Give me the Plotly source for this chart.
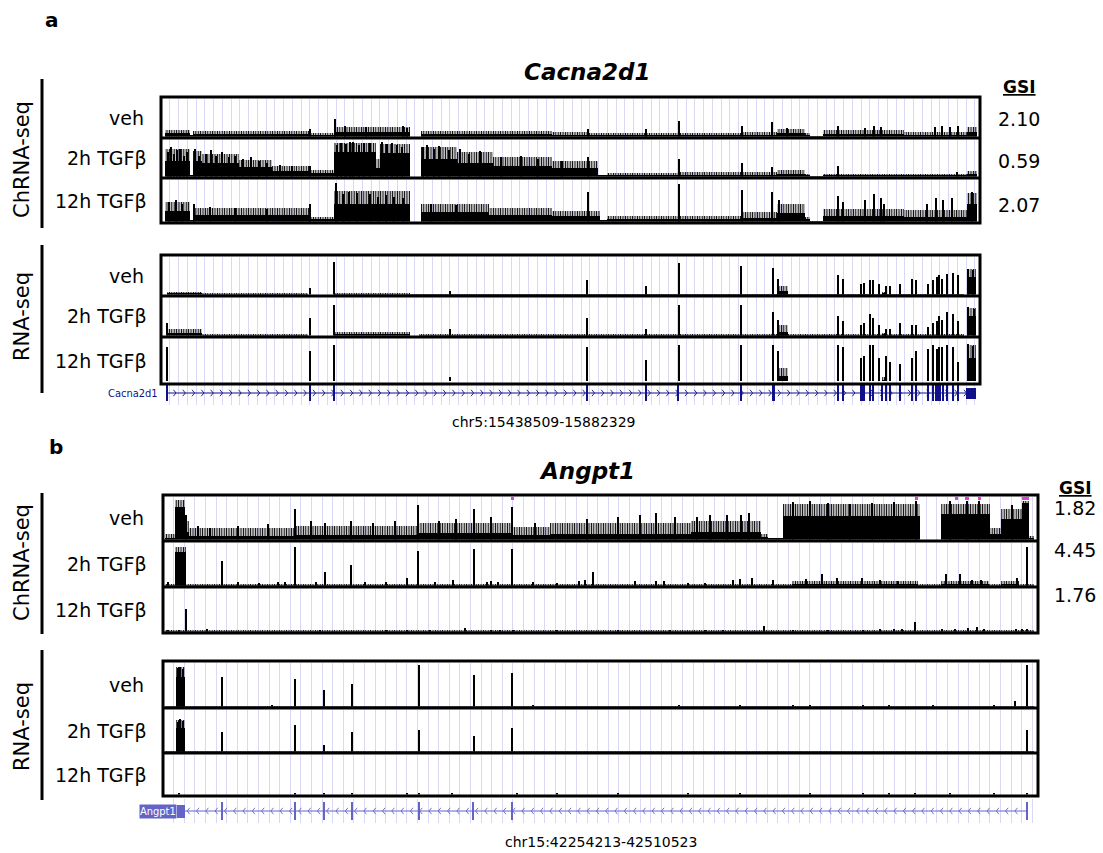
import plotly.graph_objects as go

W, H = 1103, 853

# ---------------- data ----------------
A_LOCUS = ("chr5", 15438509, 15882329)
B_LOCUS = ("chr15", 42254213, 42510523)
A_GENE, B_GENE = "Cacna2d1", "Angpt1"
CONDITIONS = ["veh", "2h TGFβ", "12h TGFβ"]
A_GSI = ["2.10", "0.59", "2.07"]
B_GSI = ["1.82", "4.45", "1.76"]

# signal segments: (start % of locus, end %, dense level, noisy top level) as fraction of track height
A_CHR_VEH_SEG = [(0.5, 3.5, 0.10, 0.20), (3.5, 3.9, 0.03, 0.05), (3.9, 18.1, 0.07, 0.16), (18.1, 21.1, 0.06, 0.11),
                 (21.1, 30.4, 0.14, 0.28), (31.7, 47.7, 0.07, 0.16), (47.7, 52.0, 0.06, 0.13), (52.0, 70.9, 0.04, 0.10),
                 (70.9, 75.2, 0.06, 0.14), (75.2, 78.6, 0.10, 0.22), (78.6, 79.3, 0.05, 0.10), (79.3, 80.8, 0.01, 0.02),
                 (80.8, 90.7, 0.08, 0.20), (90.7, 98.4, 0.06, 0.14), (98.4, 99.6, 0.15, 0.28)]
A_CHR_VEH_SPK = [(18.2, 0.22), (21.3, 0.48), (22.5, 0.30), (25.0, 0.28), (29.5, 0.30), (30.1, 0.25), (52.1, 0.22),
                 (59.2, 0.22), (63.2, 0.43), (70.9, 0.31), (74.6, 0.40), (76.5, 0.25), (82.7, 0.31), (86.0, 0.25),
                 (87.1, 0.31), (87.9, 0.28), (94.5, 0.27), (95.4, 0.30), (96.4, 0.27), (97.3, 0.30)]

A_CHR_2H_SEG = [(0.5, 3.5, 0.45, 0.78), (3.5, 3.85, 0.04, 0.06), (3.85, 5.0, 0.45, 0.72), (5.0, 9.5, 0.40, 0.65),
                (9.5, 13.5, 0.28, 0.48), (13.5, 18.1, 0.16, 0.30), (18.1, 21.1, 0.10, 0.20), (21.1, 26.2, 0.70, 0.95),
                (26.2, 26.7, 0.25, 0.50), (26.7, 30.4, 0.68, 0.93), (31.7, 36.2, 0.52, 0.85), (36.2, 40.5, 0.40, 0.70),
                (40.5, 47.7, 0.32, 0.55), (47.7, 53.3, 0.26, 0.45), (53.3, 54.5, 0.03, 0.05), (54.5, 63.2, 0.06, 0.12),
                (63.2, 70.9, 0.07, 0.14), (70.9, 75.2, 0.06, 0.13), (75.2, 78.6, 0.09, 0.20), (78.6, 79.3, 0.04, 0.08),
                (79.3, 80.8, 0.01, 0.02), (80.8, 90.7, 0.04, 0.09), (90.7, 98.4, 0.03, 0.08), (98.4, 99.6, 0.08, 0.18)]
A_CHR_2H_SPK = [(0.9, 0.70), (1.2, 0.85), (1.6, 0.65), (2.0, 0.75), (2.3, 0.80), (2.8, 0.60), (3.2, 0.70),
                (4.2, 0.78), (4.6, 0.60), (5.5, 0.65), (6.1, 0.75), (6.7, 0.60), (7.5, 0.70), (8.3, 0.55), (9.0, 0.60),
                (10.0, 0.50), (11.0, 0.55), (12.0, 0.45), (13.0, 0.40), (14.5, 0.35), (16.0, 0.30), (18.2, 0.30),
                (21.5, 0.90), (22.0, 0.95), (22.6, 0.92), (23.1, 0.97), (23.5, 0.98), (24.2, 0.90), (24.8, 0.95),
                (25.5, 0.95), (27.0, 0.97), (27.6, 0.92), (28.2, 0.95), (28.8, 0.90), (29.4, 0.85), (32.0, 0.85),
                (32.5, 0.90), (33.3, 0.80), (34.0, 0.88), (35.2, 0.75), (36.5, 0.78), (37.6, 0.65), (39.0, 0.72),
                (41.5, 0.55), (44.0, 0.60), (46.0, 0.50), (49.0, 0.45), (52.1, 0.55), (63.2, 0.50), (70.9, 0.40),
                (74.6, 0.28), (82.7, 0.30), (97.2, 0.15)]

A_CHR_12H_SEG = [(0.5, 3.5, 0.27, 0.50), (3.5, 3.9, 0.04, 0.06), (3.9, 18.1, 0.17, 0.35), (18.1, 21.1, 0.07, 0.12),
                 (21.1, 30.4, 0.45, 0.78), (31.7, 40.0, 0.24, 0.45), (40.0, 47.7, 0.17, 0.35), (47.7, 53.6, 0.14, 0.28),
                 (53.6, 54.5, 0.03, 0.05), (54.5, 63.2, 0.07, 0.14), (63.2, 70.9, 0.08, 0.16), (70.9, 75.2, 0.10, 0.25),
                 (75.2, 78.6, 0.22, 0.45), (78.6, 79.3, 0.07, 0.12), (79.3, 80.8, 0.01, 0.02), (80.8, 90.7, 0.14, 0.32),
                 (90.7, 98.4, 0.13, 0.30), (98.4, 99.6, 0.45, 0.72)]
A_CHR_12H_SPK = [(1.0, 0.50), (1.8, 0.55), (2.6, 0.45), (4.0, 0.45), (6.0, 0.38), (9.0, 0.35), (13.0, 0.32),
                 (18.2, 0.45), (21.4, 0.96), (22.2, 0.70), (23.0, 0.75), (24.0, 0.72), (25.5, 0.70), (26.5, 0.62),
                 (27.5, 0.68), (28.5, 0.62), (29.5, 0.60), (33.0, 0.45), (36.0, 0.42), (52.1, 0.75), (63.2, 0.95),
                 (70.9, 0.80), (74.6, 0.75), (75.5, 0.55), (82.7, 0.65), (83.3, 0.50), (86.0, 0.55), (87.1, 0.70),
                 (87.9, 0.60), (88.3, 0.45), (93.5, 0.45), (94.6, 0.60), (95.5, 0.55), (96.6, 0.60), (99.0, 0.75)]

A_RNA_VEH_SEG = [(0.7, 5.0, 0.03, 0.07), (5.0, 18.0, 0.012, 0.03), (21.1, 30.4, 0.015, 0.04), (30.4, 98.0, 0.008, 0.02),
                 (75.2, 76.5, 0.10, 0.25), (88.0, 88.5, 0.05, 0.08), (98.4, 99.5, 0.50, 0.70)]
A_RNA_VEH_SPK = [(18.2, 0.20), (21.1, 0.90), (35.3, 0.10), (52.0, 0.40), (59.2, 0.25), (63.2, 0.88), (70.8, 0.80),
                 (74.7, 0.75), (75.4, 0.45), (82.7, 0.55), (83.3, 0.45), (85.5, 0.30), (85.9, 0.33), (86.6, 0.40),
                 (87.0, 0.40), (87.7, 0.30), (88.5, 0.25), (89.0, 0.25), (90.2, 0.30), (91.7, 0.45), (92.2, 0.40),
                 (93.7, 0.30), (94.3, 0.42), (94.7, 0.50), (95.0, 0.55), (95.4, 0.45), (96.0, 0.58), (96.7, 0.60),
                 (97.3, 0.55), (98.6, 0.70), (99.2, 0.68)]

A_RNA_2H_SEG = [(0.7, 5.0, 0.07, 0.18), (5.0, 18.0, 0.02, 0.04), (21.1, 30.4, 0.04, 0.10), (31.5, 98.0, 0.012, 0.03),
                (75.2, 76.5, 0.12, 0.30), (88.0, 88.5, 0.05, 0.08), (98.4, 99.5, 0.55, 0.78)]
A_RNA_2H_SPK = [(0.8, 0.35), (18.2, 0.50), (21.1, 0.85), (35.3, 0.20), (52.0, 0.50), (59.2, 0.20), (63.2, 0.85),
                (70.8, 0.85), (74.7, 0.65), (75.4, 0.45), (82.7, 0.55), (83.3, 0.40), (85.5, 0.30), (85.9, 0.35),
                (86.6, 0.60), (87.0, 0.50), (87.7, 0.30), (88.5, 0.20), (89.0, 0.20), (90.2, 0.35), (91.7, 0.30),
                (92.2, 0.30), (93.7, 0.25), (94.3, 0.35), (94.7, 0.40), (95.0, 0.55), (95.4, 0.45), (96.0, 0.65),
                (96.7, 0.60), (97.3, 0.40), (98.6, 0.80), (99.3, 0.75)]

A_RNA_12H_SEG = [(0.7, 5.0, 0.02, 0.05), (5.0, 18.0, 0.012, 0.03), (21.1, 30.4, 0.02, 0.05), (30.4, 98.0, 0.012, 0.03),
                 (75.2, 76.5, 0.16, 0.35), (88.0, 88.5, 0.08, 0.15), (98.4, 99.5, 0.60, 0.90)]
A_RNA_12H_SPK = [(0.8, 0.85), (18.2, 0.75), (21.1, 0.90), (35.3, 0.15), (52.0, 0.85), (59.2, 0.55), (63.2, 0.90),
                 (70.8, 0.90), (74.7, 0.90), (75.4, 0.75), (82.7, 0.90), (83.3, 0.85), (85.5, 0.60), (85.9, 0.65),
                 (86.6, 0.90), (87.0, 0.90), (87.7, 0.60), (88.5, 0.65), (89.0, 0.50), (90.2, 0.45), (91.7, 0.60),
                 (92.2, 0.75), (93.7, 0.80), (94.3, 0.90), (94.7, 0.80), (95.0, 0.85), (95.4, 0.85), (96.0, 0.90),
                 (96.7, 0.85), (97.3, 0.50), (98.6, 0.92), (99.2, 0.88)]

B_CHR_VEH_SEG = [(0.2, 1.4, 0.06, 0.15), (1.4, 2.5, 0.80, 0.97), (2.5, 3.0, 0.20, 0.45), (3.0, 15.0, 0.10, 0.28),
                 (15.0, 29.0, 0.13, 0.35), (29.0, 40.0, 0.16, 0.40), (40.0, 44.2, 0.13, 0.32), (44.2, 60.3, 0.15, 0.40),
                 (60.3, 68.3, 0.19, 0.45), (68.3, 69.1, 0.08, 0.15), (69.1, 70.9, 0.03, 0.06), (70.9, 86.5, 0.58, 0.88),
                 (88.9, 94.5, 0.62, 0.88), (94.5, 95.8, 0.14, 0.30), (95.8, 98.2, 0.50, 0.75), (98.2, 99.0, 0.90, 0.95),
                 (99.0, 99.5, 0.05, 0.10)]
B_CHR_VEH_SPK = [(2.6, 0.60), (4.0, 0.35), (5.4, 0.30), (8.6, 0.35), (12.0, 0.38), (15.1, 0.75), (16.9, 0.45),
                 (18.5, 0.40), (21.5, 0.45), (24.0, 0.42), (26.5, 0.45), (29.1, 0.85), (31.5, 0.45), (33.5, 0.50),
                 (35.5, 0.75), (37.5, 0.55), (39.9, 0.80), (42.5, 0.40), (48.5, 0.50), (52.0, 0.55), (54.5, 0.60),
                 (56.3, 0.65), (58.5, 0.55), (61.0, 0.55), (62.5, 0.60), (64.5, 0.60), (66.1, 0.60), (67.0, 0.65),
                 (72.0, 0.92), (74.0, 0.95), (76.0, 0.90), (78.5, 0.88), (81.0, 0.90), (83.5, 0.92), (86.1, 0.95),
                 (90.0, 0.95), (91.9, 0.95), (93.3, 0.95), (97.0, 0.85)]
B_CHR_VEH_CLIP = [(39.8, 40.1), (85.9, 86.3), (90.5, 90.9), (91.7, 92.1), (93.1, 93.5), (98.2, 99.0)]

B_CHR_2H_SEG = [(0.2, 99.5, 0.012, 0.03), (1.4, 2.6, 0.82, 0.95), (71.9, 86.3, 0.04, 0.12), (88.9, 94.4, 0.04, 0.12),
                (95.8, 97.8, 0.05, 0.12)]
B_CHR_2H_SPK = [(0.6, 0.10), (6.8, 0.60), (8.6, 0.10), (11.0, 0.08), (13.1, 0.10), (14.0, 0.10), (15.1, 0.95),
                (17.5, 0.10), (18.5, 0.35), (21.5, 0.50), (23.1, 0.10), (25.5, 0.10), (27.9, 0.20), (29.1, 0.85),
                (31.1, 0.10), (33.1, 0.15), (35.5, 0.90), (37.0, 0.10), (37.5, 0.12), (38.3, 0.10), (39.9, 0.90),
                (42.3, 0.10), (45.0, 0.08), (47.5, 0.12), (48.2, 0.15), (49.2, 0.35), (53.9, 0.12), (56.3, 0.12),
                (57.3, 0.12), (60.0, 0.08), (62.0, 0.08), (65.1, 0.15), (66.0, 0.18), (67.3, 0.20), (69.7, 0.15),
                (73.5, 0.18), (75.3, 0.30), (77.0, 0.20), (79.9, 0.20), (81.9, 0.15), (84.0, 0.12), (89.5, 0.30),
                (91.1, 0.30), (92.5, 0.15), (93.5, 0.15), (97.6, 0.20), (98.7, 0.95)]

B_CHR_12H_SEG = [(0.2, 99.5, 0.012, 0.03)]
B_CHR_12H_SPK = [(0.6, 0.05), (1.8, 0.05), (2.6, 0.55), (5.0, 0.08), (18.0, 0.05), (25.5, 0.06), (27.9, 0.06),
                 (30.5, 0.06), (34.5, 0.10), (37.5, 0.06), (38.5, 0.06), (40.0, 0.06), (45.0, 0.05), (52.0, 0.05),
                 (58.0, 0.06), (62.0, 0.05), (64.0, 0.06), (68.7, 0.15), (72.0, 0.06), (76.0, 0.06), (80.0, 0.06),
                 (82.0, 0.08), (83.5, 0.08), (84.5, 0.08), (86.0, 0.25), (89.0, 0.08), (90.5, 0.08), (92.0, 0.10),
                 (93.0, 0.12), (93.8, 0.08), (97.5, 0.08), (98.2, 0.08), (98.8, 0.08)]

B_RNA_VEH_SEG = [(0.2, 99.5, 0.008, 0.02), (1.5, 2.5, 0.70, 0.95)]
B_RNA_VEH_SPK = [(1.7, 0.92), (2.0, 0.95), (2.3, 0.90), (6.8, 0.70), (12.5, 0.03), (15.1, 0.66), (18.4, 0.40),
                 (21.6, 0.55), (29.3, 1.00), (35.5, 0.75), (39.9, 0.80), (42.3, 0.05), (59.0, 0.04), (66.0, 0.05),
                 (72.0, 0.05), (74.0, 0.04), (80.0, 0.04), (83.0, 0.04), (88.0, 0.04), (95.0, 0.04), (97.4, 0.15),
                 (98.8, 1.00)]
B_RNA_2H_SEG = [(0.2, 99.5, 0.004, 0.01), (1.5, 2.5, 0.60, 0.80)]
B_RNA_2H_SPK = [(1.7, 0.75), (2.0, 0.82), (2.3, 0.78), (6.8, 0.50), (15.1, 0.68), (18.4, 0.18), (21.6, 0.50),
                (29.3, 0.55), (35.5, 0.40), (39.9, 0.60), (98.8, 0.55)]
B_RNA_12H_SEG = []
B_RNA_12H_SPK = [(1.8, 0.03), (15.1, 0.03), (18.4, 0.03), (21.6, 0.03), (27.9, 0.05), (29.3, 0.05), (33.0, 0.03),
                 (40.5, 0.04), (45.0, 0.03), (52.0, 0.03), (60.0, 0.04), (66.0, 0.03), (74.0, 0.04), (80.0, 0.04),
                 (83.0, 0.05), (86.0, 0.04), (90.0, 0.03), (95.0, 0.03), (98.8, 0.04)]

# gene models (% of locus)
A_GENE_SPAN = (0.7, 99.5)
A_EXONS = [0.7, 18.2, 21.1, 52.0, 59.2, 63.2, 70.8, 74.7, 74.9, 82.7, 83.3, 85.5, 85.7, 85.9, 86.6, 87.0, 88.1, 88.5,
           89.0, 90.2, 91.7, 92.2, 93.7, 94.3, 94.6, 94.9, 95.2, 95.5, 96.0, 96.7, 97.3]
A_BLOCK = (98.3, 99.5)
B_GENE_SPAN = (1.7, 98.8)
B_EXONS = [6.8, 15.1, 18.4, 21.6, 29.3, 35.5, 39.9, 98.8]
B_BLOCK = (1.6, 2.5)

# ---------------- layout (pixels) ----------------
FONT = "DejaVu Sans"
GRID = "#d9d9f6"
A_X = (161, 980)
B_X = (163, 1038)
A_CHR_ROWS = [(97, 138), (138, 178), (178, 223)]
A_RNA_ROWS = [(255, 296), (296, 337), (337, 384)]
A_GENE_ROW = (381, 405)
B_CHR_ROWS = [(495, 541), (541, 587), (587, 633)]
B_RNA_ROWS = [(661, 708), (708, 753), (753, 796)]
B_GENE_ROW = (799, 823)

fig = go.Figure()
axes = {}
count = [0]


def new_axes(xpx, ypx, locus, grid_px, yr=(0, 1.04)):
    count[0] += 1
    k = count[0]
    s = "" if k == 1 else str(k)
    start, end = locus[1], locus[2]
    span = end - start
    axes["xaxis" + s] = dict(domain=[xpx[0] / W, xpx[1] / W], range=[start, end], anchor="y" + s,
                             showgrid=True, gridcolor=GRID, gridwidth=1, tick0=start,
                             dtick=span * grid_px / (xpx[1] - xpx[0]), showticklabels=False, ticks="",
                             zeroline=False, showline=False, fixedrange=True)
    axes["yaxis" + s] = dict(domain=[1 - ypx[1] / H, 1 - ypx[0] / H], range=list(yr), anchor="x" + s,
                             visible=False, fixedrange=True)
    return "x" + s, "y" + s


def bar(xa, ya, x, y, width, color, base=None, pattern=None):
    m = dict(color=color, line=dict(width=0))
    if pattern:
        m["pattern"] = pattern
    fig.add_trace(go.Bar(x=x, y=y, width=width, base=base, marker=m,
                         xaxis=xa, yaxis=ya, showlegend=False, hoverinfo="skip"))


NOISE = dict(shape="|", size=2.4, solidity=0.5, fillmode="replace")


def draw_signal(xpx, ypx, locus, grid_px, seg, spk, clip=None):
    xa, ya = new_axes(xpx, ypx, locus, grid_px)
    start, end = locus[1], locus[2]
    span = end - start
    bp_px = span / (xpx[1] - xpx[0])
    g = lambda p: start + p / 100 * span
    if seg:
        cx = [g((a + b) / 2) for a, b, _, _ in seg]
        wd = [g(b) - g(a) for a, b, _, _ in seg]
        bar(xa, ya, cx, [t for _, _, _, t in seg], wd, "black", pattern=NOISE)
        bar(xa, ya, cx, [m for _, _, m, _ in seg], wd, "black")
    if spk:
        bar(xa, ya, [g(p) for p, _ in spk], [h for _, h in spk], 1.15 * bp_px, "black")
    if clip:
        bar(xa, ya, [g((a + b) / 2) for a, b in clip], [0.06] * len(clip),
            [max(g(b) - g(a), 2 * bp_px) for a, b in clip], "#e23ce2", base=[0.97] * len(clip))


def draw_gene(xpx, ypx, locus, grid_px, span_pct, exons, block, color, direction, tick_px, blk_px):
    xa, ya = new_axes(xpx, ypx, locus, grid_px, yr=(0, 1))
    start, end = locus[1], locus[2]
    span = end - start
    bp_px = span / (xpx[1] - xpx[0])
    hpx = ypx[1] - ypx[0]
    g = lambda p: start + p / 100 * span
    x0, x1 = g(span_pct[0]), g(span_pct[1])
    fig.add_trace(go.Scatter(x=[x0, x1], y=[0.5, 0.5], mode="lines", line=dict(color=color, width=1),
                             xaxis=xa, yaxis=ya, showlegend=False, hoverinfo="skip"))
    step = 9.3 * bp_px
    dx = 2.6 * bp_px * direction
    dy = 3.2 / hpx
    xs, ys = [], []
    n = int((x1 - x0) / step)
    for i in range(1, n):
        c = x0 + i * step
        xs += [c - dx, c, c - dx, None]
        ys += [0.5 + dy, 0.5, 0.5 - dy, None]
    fig.add_trace(go.Scatter(x=xs, y=ys, mode="lines", line=dict(color=color, width=0.9),
                             xaxis=xa, yaxis=ya, showlegend=False, hoverinfo="skip"))
    th = tick_px / hpx
    bar(xa, ya, [g(p) for p in exons], [th] * len(exons), 1.4 * bp_px, color, base=[0.5 - th / 2] * len(exons))
    bh = blk_px / hpx
    bar(xa, ya, [g((block[0] + block[1]) / 2)], [bh], g(block[1]) - g(block[0]), color, base=[0.5 - bh / 2])


A_GRID_PX, B_GRID_PX = 8.75, 10.6
for rows, tracks in [(A_CHR_ROWS, [(A_CHR_VEH_SEG, A_CHR_VEH_SPK), (A_CHR_2H_SEG, A_CHR_2H_SPK), (A_CHR_12H_SEG, A_CHR_12H_SPK)]),
                     (A_RNA_ROWS, [(A_RNA_VEH_SEG, A_RNA_VEH_SPK), (A_RNA_2H_SEG, A_RNA_2H_SPK), (A_RNA_12H_SEG, A_RNA_12H_SPK)])]:
    for r, (seg, spk) in zip(rows, tracks):
        draw_signal(A_X, (r[0] + 1.5, r[1] - 1.5), A_LOCUS, A_GRID_PX, seg, spk)

clips = [B_CHR_VEH_CLIP, None, None]
for r, (seg, spk), c in zip(B_CHR_ROWS, [(B_CHR_VEH_SEG, B_CHR_VEH_SPK), (B_CHR_2H_SEG, B_CHR_2H_SPK), (B_CHR_12H_SEG, B_CHR_12H_SPK)], clips):
    draw_signal(B_X, (r[0] + 1.5, r[1] - 1.5), B_LOCUS, B_GRID_PX, seg, spk, c)
for r, (seg, spk) in zip(B_RNA_ROWS, [(B_RNA_VEH_SEG, B_RNA_VEH_SPK), (B_RNA_2H_SEG, B_RNA_2H_SPK), (B_RNA_12H_SEG, B_RNA_12H_SPK)]):
    draw_signal(B_X, (r[0] + 1.5, r[1] - 1.5), B_LOCUS, B_GRID_PX, seg, spk)

A_GENE_COLOR, B_GENE_COLOR = "#10108a", "#6464c8"
draw_gene(A_X, A_GENE_ROW, A_LOCUS, A_GRID_PX, A_GENE_SPAN, A_EXONS, A_BLOCK, A_GENE_COLOR, 1, 16, 11)
draw_gene(B_X, B_GENE_ROW, B_LOCUS, B_GRID_PX, B_GENE_SPAN, B_EXONS, B_BLOCK, B_GENE_COLOR, -1, 18, 13)

# ---------------- frames ----------------
shapes = []


def frame(xpx, rows):
    top, bot = rows[0][0], rows[-1][1]
    shapes.append(dict(type="rect", xref="paper", yref="paper", x0=xpx[0] / W, x1=xpx[1] / W,
                       y0=1 - bot / H, y1=1 - top / H, line=dict(color="black", width=3)))
    for r in rows[:-1]:
        shapes.append(dict(type="line", xref="paper", yref="paper", x0=xpx[0] / W, x1=xpx[1] / W,
                           y0=1 - r[1] / H, y1=1 - r[1] / H, line=dict(color="black", width=3)))


frame(A_X, A_CHR_ROWS)
frame(A_X, A_RNA_ROWS)
frame(B_X, B_CHR_ROWS)
frame(B_X, B_RNA_ROWS)
for y0, y1 in [(79, 228), (245, 393), (493, 634), (650, 800)]:
    shapes.append(dict(type="line", xref="paper", yref="paper", x0=42 / W, x1=42 / W, y0=1 - y0 / H, y1=1 - y1 / H,
                       line=dict(color="black", width=3)))

# ---------------- text ----------------
ann = []


def text(x, y, s, size, xanchor="center", color="black", angle=0, bg=None, family=FONT):
    d = dict(x=x / W, y=1 - y / H, xref="paper", yref="paper", text=s, showarrow=False, xanchor=xanchor,
             yanchor="middle", textangle=angle, font=dict(family=family, size=size, color=color))
    if bg:
        d.update(bgcolor=bg, borderpad=0)
    ann.append(d)


text(52, 20, "<b>a</b>", 20)
text(56, 447, "<b>b</b>", 20)
text(587, 72, "<b><i>" + A_GENE + "</i></b>", 23)
text(587, 471, "<b><i>" + B_GENE + "</i></b>", 23)
text(1019, 87, "<b><u>GSI</u></b>", 17)
text(1075, 488, "<b><u>GSI</u></b>", 17)
for v, y in zip(A_GSI, [119, 161, 205]):
    text(1019, y, v, 19)
for v, y in zip(B_GSI, [508, 550, 595]):
    text(1075, y, v, 19)
for rows in [A_CHR_ROWS, A_RNA_ROWS, B_CHR_ROWS, B_RNA_ROWS]:
    for lab, r in zip(CONDITIONS, rows):
        text(146 if lab == "veh" else 149, (r[0] + r[1]) / 2, lab, 19, xanchor="right")
text(22, 160, "ChRNA-seq", 21, angle=-90)
text(22, 317, "RNA-seq", 21, angle=-90)
text(22, 563, "ChRNA-seq", 21, angle=-90)
text(22, 727, "RNA-seq", 21, angle=-90)
text(544, 422, "%s:%d-%d" % A_LOCUS, 14)
text(601, 842, "%s:%d-%d" % B_LOCUS, 14)
text(160, 393, A_GENE, 11, xanchor="right", color=A_GENE_COLOR, family="Liberation Sans Narrow, DejaVu Sans Condensed, sans-serif")
text(157.5, 811, B_GENE, 11, color="white", bg=B_GENE_COLOR, family="Liberation Sans Narrow, DejaVu Sans Condensed, sans-serif")

fig.update_layout(width=W, height=H, margin=dict(l=0, r=0, t=0, b=0), paper_bgcolor="white", plot_bgcolor="white",
                  barmode="overlay", bargap=0, hovermode=False, showlegend=False, shapes=shapes, annotations=ann,
                  **axes)
fig.write_html("out.html")
